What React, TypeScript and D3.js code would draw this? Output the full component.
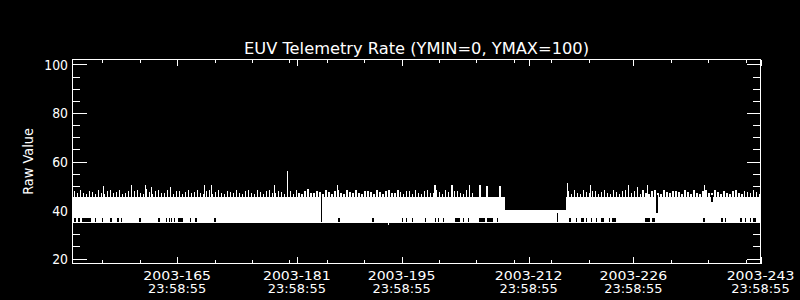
import React from 'react';
import * as d3 from 'd3';

// ---------- chart text ----------
const TITLE = 'EUV Telemetry Rate (YMIN=0, YMAX=100)';
const Y_LABEL = 'Raw Value';

// ---------- axes (x in day-of-year 2003) ----------
const X_DOMAIN = [151, 243];
const Y_DOMAIN = [17.94, 102.06];
const X_MAJOR = [165, 181, 195, 212, 226, 243];
const X_LABEL_DATE = ['2003-165', '2003-181', '2003-195', '2003-212', '2003-226', '2003-243'];
const X_LABEL_TIME = ['23:58:55', '23:58:55', '23:58:55', '23:58:55', '23:58:55', '23:58:55'];
const X_MINOR = [155, 160, 170, 175, 180, 185, 190, 200, 205, 210, 215, 220, 231, 236, 241];
const Y_MAJOR = [20, 40, 60, 80, 100];
const Y_MINOR = [25, 30, 35, 45, 50, 55, 65, 70, 75, 85, 90, 95];

// ---------- data: solid envelope of the telemetry band ----------
const BAND_START = [151, 208.8, 216.93];
const BAND_END = [208.8, 216.93, 243];
const BAND_LOW = [34.7, 34.7, 34.7];
const BAND_HIGH = [45.4, 40.0, 45.4];

// comb of upper excursions (sampled every 0.4 day)
const COMB_STEP = 0.4;
const COMB_A_START = 151.3;
const COMB_A = [
  47.8, 46.9, 48.2, 47.1, 46.5, 48.0, 47.4, 46.8, 48.3, 47.0,
  46.6, 47.9, 48.1, 46.9, 47.5, 48.4, 46.7, 47.2, 48.0, 46.5,
  47.7, 48.2, 47.0, 46.8, 48.5, 47.3, 46.6, 47.9, 48.1, 47.0,
  46.9, 48.3, 47.5, 46.7, 47.8, 48.0, 46.6, 47.4, 48.2, 46.9,
  47.6, 48.4, 47.1, 46.5, 47.9, 48.1, 46.8, 47.3, 48.3, 47.0,
  46.7, 48.0, 47.6, 46.9, 48.2, 47.2, 46.6, 47.8, 48.4, 47.0,
  46.8, 48.1, 47.5, 46.6, 47.9, 48.3, 47.1, 46.9, 48.0, 47.4,
  46.5, 48.2, 47.7, 46.8, 48.1, 47.0, 46.7, 47.9, 48.5, 47.2,
  46.9, 48.0, 47.3, 46.6, 48.3, 47.6, 46.8, 47.8, 48.2, 47.1,
  46.7, 48.1, 47.4, 46.9, 48.4, 47.0, 46.6, 47.9, 48.0, 47.3,
  46.8, 48.2, 47.5, 46.7, 47.8, 48.3, 47.1, 46.9, 48.1, 47.4,
  46.6, 48.0, 47.7, 46.8, 48.2, 47.2, 46.5, 47.9, 48.4, 47.0,
  46.9, 48.1, 47.6, 46.7, 48.3, 47.3, 46.8, 47.8, 48.0, 47.1,
  46.6, 48.2, 47.4, 46.9,
];
const COMB_C_START = 217.3;
const COMB_C = [
  47.9, 46.8, 48.1, 47.2, 46.6, 48.3, 47.5, 46.9, 47.8, 48.0,
  46.7, 47.4, 48.2, 47.0, 46.8, 48.4, 47.3, 46.6, 47.9, 48.1,
  47.1, 46.9, 48.0, 47.6, 46.7, 48.2, 47.2, 46.8, 47.8, 48.3,
  47.0, 46.6, 48.1, 47.5, 46.9, 47.9, 48.0, 47.3, 46.7, 48.2,
  47.4, 46.8, 48.4, 47.1, 46.6, 47.8, 48.1, 47.0, 46.9, 48.3,
  47.6, 46.7, 48.0, 47.2, 46.8, 47.9, 48.2, 47.1, 46.6, 48.0,
  47.5, 46.9, 48.1, 47.3, 46.8,
];

// tall individual peaks
const PEAK_DAYS = [
  155.14, 158.94, 160.72, 161.61, 164.06, 168.64, 169.54, 178.0, 179.73, 186.37,
  199.47, 201.74, 204.08, 205.48, 206.42, 208.16, 217.15, 220.28, 225.33, 226.51,
  227.84, 235.55,
];
const PEAK_VALUES = [
  50.0, 50.3, 50.3, 49.5, 49.6, 50.3, 50.3, 50.3, 56.1, 50.3,
  50.3, 50.3, 50.3, 50.3, 50.0, 50.0, 51.0, 50.3, 50.3, 49.6,
  50.3, 50.3,
];

// single low excursion
const DIP_DAYS = [193.23];
const DIP_VALUES = [33.8];

// places where the lower edge only reached ~37 (gaps in the bottom of the band)
const NOTCH_START = [
  151.23, 151.80, 152.26, 153.99, 154.93, 156.04, 157.01, 157.47, 159.95, 162.49,
  163.52, 163.86, 164.19, 164.52, 165.17, 166.73, 167.44, 169.98, 186.55, 191.09,
  195.06, 195.59, 196.40, 198.14, 199.47, 199.88, 200.54, 202.14, 203.21, 203.88,
  205.35, 206.42, 207.75, 217.44, 218.27, 218.94, 219.61, 220.28, 220.95, 221.61,
  222.72, 223.17, 227.54, 228.43, 235.35, 237.78, 238.22, 240.23, 240.89, 241.56,
  242.03,
];
const NOTCH_END = [
  151.41, 151.98, 153.46, 154.17, 155.11, 156.22, 157.19, 157.65, 160.13, 162.67,
  163.70, 164.04, 164.37, 164.70, 165.75, 166.91, 167.62, 170.16, 186.73, 191.27,
  195.24, 195.77, 196.58, 198.32, 199.65, 200.06, 200.72, 202.81, 203.39, 204.06,
  206.15, 207.18, 207.93, 217.62, 218.45, 219.38, 219.82, 220.46, 221.13, 222.06,
  222.90, 223.62, 228.20, 228.87, 235.53, 237.96, 238.40, 240.49, 241.07, 241.74,
  242.46,
];

// data drop-outs (dark vertical lines through the band)
const DROP_DAYS = [184.30, 215.84, 229.17, 236.49];
const DROP_LOW = [34.9, 34.9, 38.7, 43.3];
const DROP_HIGH = [46.3, 38.8, 46.1, 46.1];

// ---------- layout ----------
const W = 800;
const H = 300;
const PLOT_L = 72.5;
const PLOT_R = 760.5;
const PLOT_T = 59.5;
const PLOT_B = 263.5;
const FONT = "'DejaVu Sans', 'Liberation Sans', sans-serif";

if (typeof document !== 'undefined') {
  document.body.style.margin = '0';
  document.body.style.background = '#000';
}

export default function App() {
  const x = d3.scaleLinear().domain(X_DOMAIN).range([PLOT_L, PLOT_R]);
  const y = d3.scaleLinear().domain(Y_DOMAIN).range([PLOT_B, PLOT_T]);

  const combTop = BAND_HIGH[0];
  const comb = [
    ...COMB_A.map((v, i) => [COMB_A_START + i * COMB_STEP, v]),
    ...COMB_C.map((v, i) => [COMB_C_START + i * COMB_STEP, v]),
  ];

  const yMajLen = 14;
  const yMinLen = 7.5;
  const xMajLen = 6.5;
  const xMinLen = 3.5;
  const py = (v: number) => Math.round(y(v)) + 0.5;
  const px = (d: number) => Math.round(x(d)) + 0.5;

  return (
    <svg width={W} height={H} style={{ display: 'block', background: '#000' }}>
      <rect x={0} y={0} width={W} height={H} fill="#000" />
      <g shapeRendering="crispEdges">
        {BAND_START.map((s, i) => (
          <rect
            key={'b' + i}
            x={x(s)}
            width={x(BAND_END[i]) - x(s)}
            y={y(BAND_HIGH[i])}
            height={y(BAND_LOW[i]) - y(BAND_HIGH[i])}
            fill="#fff"
          />
        ))}
        {comb.map(([d, v], i) => (
          <rect
            key={'c' + i}
            x={x(d) - 0.6}
            width={1.3}
            y={y(v)}
            height={y(combTop) - y(v) + 1}
            fill="#fff"
          />
        ))}
        {PEAK_DAYS.map((d, i) => (
          <rect
            key={'p' + i}
            x={x(d) - 0.5}
            width={1.1}
            y={y(PEAK_VALUES[i])}
            height={y(combTop) - y(PEAK_VALUES[i]) + 1}
            fill="#fff"
          />
        ))}
        {DIP_DAYS.map((d, i) => (
          <rect
            key={'d' + i}
            x={x(d) - 0.5}
            width={1.1}
            y={y(BAND_LOW[0])}
            height={y(DIP_VALUES[i]) - y(BAND_LOW[0])}
            fill="#fff"
          />
        ))}
        {NOTCH_START.map((s, i) => (
          <rect
            key={'n' + i}
            x={x(s)}
            width={Math.max(1.2, x(NOTCH_END[i]) - x(s))}
            y={y(36.9)}
            height={y(35.2) - y(36.9)}
            fill="#000"
          />
        ))}
        {DROP_DAYS.map((d, i) => (
          <rect
            key={'r' + i}
            x={x(d) - 0.7}
            width={1.5}
            y={y(DROP_HIGH[i])}
            height={y(DROP_LOW[i]) - y(DROP_HIGH[i])}
            fill="#000"
          />
        ))}
      </g>

      {/* frame */}
      <g stroke="#fff" strokeWidth={1} fill="none" shapeRendering="crispEdges">
        <rect x={PLOT_L} y={PLOT_T} width={PLOT_R - PLOT_L} height={PLOT_B - PLOT_T} />
        {Y_MAJOR.map((v) => (
          <g key={'ym' + v}>
            <line x1={PLOT_L} x2={PLOT_L + yMajLen} y1={py(v)} y2={py(v)} />
            <line x1={PLOT_R} x2={PLOT_R - yMajLen} y1={py(v)} y2={py(v)} />
          </g>
        ))}
        {Y_MINOR.map((v) => (
          <g key={'yn' + v}>
            <line x1={PLOT_L} x2={PLOT_L + yMinLen} y1={py(v)} y2={py(v)} />
            <line x1={PLOT_R} x2={PLOT_R - yMinLen} y1={py(v)} y2={py(v)} />
          </g>
        ))}
        {X_MAJOR.map((d) => (
          <g key={'xm' + d}>
            <line x1={px(d)} x2={px(d)} y1={PLOT_B} y2={PLOT_B - xMajLen} />
            <line x1={px(d)} x2={px(d)} y1={PLOT_T} y2={PLOT_T + xMajLen} />
          </g>
        ))}
        {X_MINOR.map((d) => (
          <g key={'xn' + d}>
            <line x1={px(d)} x2={px(d)} y1={PLOT_B} y2={PLOT_B - xMinLen} />
            <line x1={px(d)} x2={px(d)} y1={PLOT_T} y2={PLOT_T + xMinLen} />
          </g>
        ))}
      </g>

      {/* text */}
      <g fill="#fff" fontFamily={FONT}>
        <text x={(PLOT_L + PLOT_R) / 2} y={53.5} fontSize={16} textAnchor="middle" textLength={345} lengthAdjust="spacingAndGlyphs">
          {TITLE}
        </text>
        {Y_MAJOR.map((v) => (
          <text
            key={'yl' + v}
            x={68}
            y={y(v) + 5.5}
            fontSize={14}
            textAnchor="end"
            textLength={String(v).length * 7.9}
            lengthAdjust="spacingAndGlyphs"
          >
            {String(v)}
          </text>
        ))}
        {X_MAJOR.map((d, i) => (
          <g key={'xl' + d}>
            <text x={x(d)} y={279.5} fontSize={13} textAnchor="middle" textLength={67.7} lengthAdjust="spacingAndGlyphs">
              {X_LABEL_DATE[i]}
            </text>
            <text x={x(d)} y={293.3} fontSize={13} textAnchor="middle" textLength={58.3} lengthAdjust="spacingAndGlyphs">
              {X_LABEL_TIME[i]}
            </text>
          </g>
        ))}
        <text
          transform={`translate(33, ${(PLOT_T + PLOT_B) / 2}) rotate(-90)`}
          fontSize={14}
          textAnchor="middle"
          textLength={66.7}
          lengthAdjust="spacingAndGlyphs"
        >
          {Y_LABEL}
        </text>
      </g>
    </svg>
  );
}
